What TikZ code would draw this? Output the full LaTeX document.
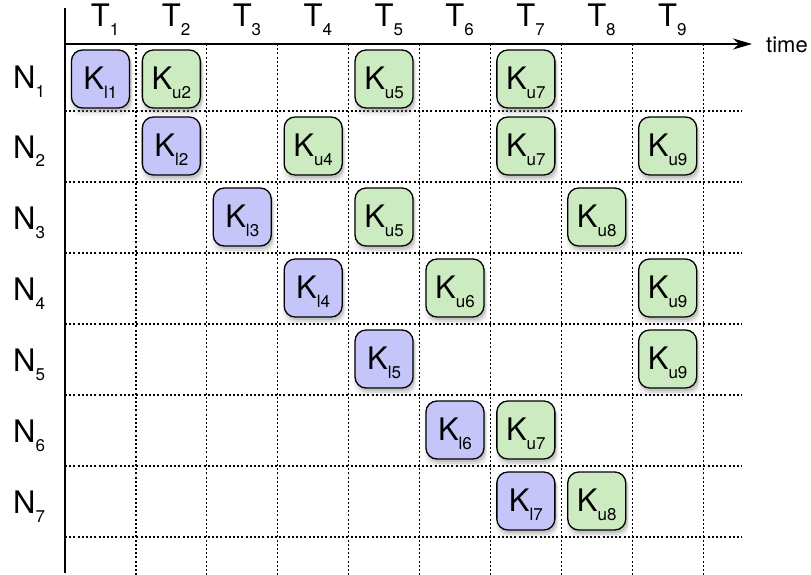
\documentclass[tikz,border=0pt]{standalone}
\usepackage{fontspec}
\setmainfont{TeX Gyre Heros}
\usetikzlibrary{shadows,arrows.meta}
\definecolor{kblue}{RGB}{197,197,250}
\definecolor{kgreen}{RGB}{205,235,192}
\newcommand{\subtxt}[1]{\raisebox{-9pt}{\fontsize{17}{17}\selectfont #1}}
\begin{document}
\begin{tikzpicture}[x=1pt,y=-1pt,
  gridline/.style={line width=1.2pt, dash pattern=on 2pt off 2.2pt},
  axisline/.style={line width=1.3pt},
  kbox/.style={draw, line width=1.3pt, rounded corners=11pt, minimum size=58pt,
    inner sep=0pt, text height=30pt, text depth=9pt,
    font=\fontsize{31}{31}\selectfont,
    drop shadow={opacity=0.12, shadow xshift=1pt, shadow yshift=-5pt, shadow scale=1.08},
    drop shadow={opacity=0.18, shadow xshift=1.5pt, shadow yshift=-4pt, shadow scale=1.03},
    drop shadow={opacity=0.25, shadow xshift=1.5pt, shadow yshift=-3pt}},
  lo/.style={kbox, fill=kblue},
  up/.style={kbox, fill=kgreen},
  biglabel/.style={font=\fontsize{31}{31}\selectfont, inner sep=0pt}]
\useasboundingbox (0,0) rectangle (811,575);
% grid
\foreach \i in {1,...,9}{
  \coordinate (vt\i) at ({65+70.9*\i},44);
  \coordinate (vb\i) at ({65+70.9*\i},575);
  \draw[gridline] (vt\i) -- (vb\i);
}
\foreach \j in {1,...,7}{
  \coordinate (hl\j) at (65,{111+71*(\j-1)});
  \coordinate (hr\j) at (742,{111+71*(\j-1)});
  \draw[gridline] (hl\j) -- (hr\j);
}
% axes
\coordinate (axtop) at (65,8);
\coordinate (axbot) at (65,573);
\coordinate (axo) at (65,44);
\coordinate (axtip) at (752,44);
\draw[axisline] (axtop) -- (axbot);
\draw[axisline, -{Stealth[length=19pt,width=11pt,inset=6pt]}] (axo) -- (axtip);
\node[anchor=base west, font=\fontsize{22}{22}\selectfont, inner sep=0pt] (time) at (766,53) {time};
% column labels
\foreach \i in {1,...,9}{
  \node[biglabel, anchor=base] (t\i) at ({65+70.9*(\i-0.5)},27) {T\rlap{\subtxt{\i}}};
}
% row labels
\foreach \j in {1,...,7}{
  \pgfmathsetmacro{\ry}{\j==1 ? 78 : 147+71*(\j-2)}
  \node[biglabel, anchor=base west] (n\j) at (13,{\ry+11}) {N\subtxt{\j}};
}
% boxes: row/col/style/sub
\foreach \r/\c/\s/\t in {1/1/lo/l1, 1/2/up/u2, 1/5/up/u5, 1/7/up/u7,
  2/2/lo/l2, 2/4/up/u4, 2/7/up/u7, 2/9/up/u9,
  3/3/lo/l3, 3/5/up/u5, 3/8/up/u8,
  4/4/lo/l4, 4/6/up/u6, 4/9/up/u9,
  5/5/lo/l5, 5/9/up/u9,
  6/6/lo/l6, 6/7/up/u7,
  7/7/lo/l7, 7/8/up/u8}{
  \pgfmathsetmacro{\ry}{\r==1 ? 79 : 146+71*(\r-2)}
  \node[\s] (k\r-\c) at ({65+70.9*(\c-0.5)},\ry) {K\subtxt{\t}};
}
\end{tikzpicture}
\end{document}
